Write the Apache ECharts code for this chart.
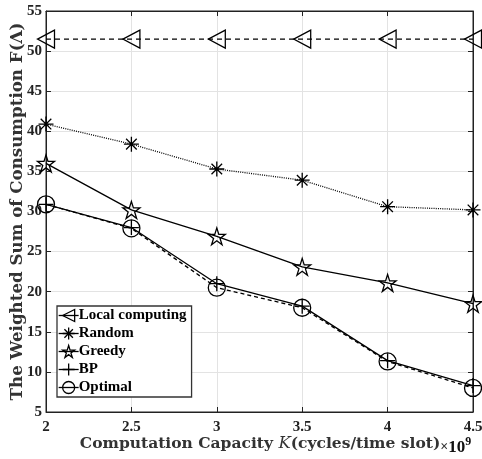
<!DOCTYPE html>
<html><head><meta charset="utf-8">
<script src="https://cdn.jsdelivr.net/npm/echarts@6/dist/echarts.min.js"></script>
<style>html,body{margin:0;padding:0;background:#fff}#c{width:482px;height:459px}</style>
</head><body><div id="c"></div>
<script>
const capacity = [2, 2.5, 3, 3.5, 4, 4.5];
const localComputing = [51.5, 51.5, 51.5, 51.5, 51.5, 51.5];
const randomVals = [40.9, 38.4, 35.3, 33.9, 30.6, 30.2];
const greedyVals = [36.0, 30.2, 26.9, 23.1, 21.1, 18.5];
const bpVals = [30.9, 28.0, 21.0, 18.2, 11.4, 8.3];
const optimalVals = [30.9, 27.9, 20.5, 18.0, 11.3, 8.0];
const xTicks = ['2', '2.5', '3', '3.5', '4', '4.5'];

const FONT = '"Liberation Serif", serif';
const WIDE = '"DejaVu Serif", serif';
const pairs = v => capacity.map((x, i) => [x, v[i]]);

const SYM = {
  tri: 'path://M-1,0 L0.9,-1 L0.9,1 Z',
  ast: 'path://M0,-1 L0,1 M-0.707,-0.707 L0.707,0.707 M-0.707,0.707 L0.707,-0.707 M-1,0 L1,0',
  star: 'path://M0,-1 L0.2245,-0.309 L0.951,-0.309 L0.363,0.118 L0.588,0.809 L0,0.382 L-0.588,0.809 L-0.363,0.118 L-0.951,-0.309 L-0.2245,-0.309 Z',
  plus: 'path://M0,-1 L0,1 M-1,0 L1,0'
};
const HOLLOW = { color: 'rgba(0,0,0,0)', borderColor: '#000', borderWidth: 1.3 };

function mk(name, data, symbol, size, lineType, z) {
  return {
    name, type: 'line', data: pairs(data), symbol, symbolSize: size,
    showAllSymbol: true, z: z || 2,
    lineStyle: { color: '#000', width: 1.3, type: lineType },
    itemStyle: HOLLOW,
    emphasis: { disabled: true }, animation: false
  };
}

const legendNames = ['Local computing', 'Random', 'Greedy', 'BP', 'Optimal'];
const chart = echarts.init(document.getElementById('c'));
chart.setOption({
  animation: false,
  grid: { left: 46, right: 9, top: 11, bottom: 47, outerBoundsMode: 'none', containLabel: false,
          show: true, borderColor: '#222', borderWidth: 1 },
  legend: {
    orient: 'vertical', left: 57, top: 306, itemGap: 3, itemWidth: 20, itemHeight: 15,
    padding: [2, 5, 2, 1],
    backgroundColor: '#fff', borderColor: '#333', borderWidth: 1.3,
    itemStyle: HOLLOW,
    lineStyle: { type: 'solid', width: 1.3, color: '#000' },
    textStyle: { fontFamily: FONT, fontWeight: 'bold', fontSize: 15, color: '#000', padding: [0, 0, 0, -5] },
    data: legendNames.map(n => ({ name: n, itemStyle: HOLLOW }))
  },
  xAxis: [{
    type: 'value', min: 2, max: 4.5, interval: 0.5,
    axisLine: { show: true, lineStyle: { color: '#222' } },
    axisTick: { inside: true, length: 5, lineStyle: { color: '#222' } },
    splitLine: { show: true, lineStyle: { color: '#e3e3e3' } },
    axisLabel: { fontFamily: FONT, fontWeight: 'bold', fontSize: 15, color: '#222', margin: 8,
      formatter: (v) => { const i = capacity.indexOf(v); return i >= 0 ? xTicks[i] : ''; } },
    name: 'Computation Capacity {i|K}(cycles/time slot){s|×}{t|10}{p|9}',
    nameLocation: 'middle', nameGap: 19, nameMoveOverlap: false,
    nameTextStyle: {
      fontFamily: WIDE, fontWeight: 'bold', fontSize: 15.5, color: '#333', padding: [0, 0, 0, 32],
      rich: {
        i: { fontFamily: WIDE, fontStyle: 'italic', fontWeight: 'normal', fontSize: 16.5, color: '#333' },
        s: { fontFamily: FONT, fontSize: 14, color: '#333', padding: [8, 0, 0, 0] },
        t: { fontFamily: FONT, fontWeight: 'bold', fontSize: 17, color: '#111', padding: [8, 0, 0, 0] },
        p: { fontFamily: FONT, fontWeight: 'bold', fontSize: 12, color: '#111', padding: [0, 0, 4, 0] }
      }
    }
  }, {
    type: 'value', position: 'top', min: 2, max: 4.5, interval: 0.5,
    axisLine: { show: true, lineStyle: { color: '#222' } },
    axisTick: { inside: true, length: 5, lineStyle: { color: '#222' } },
    axisLabel: { show: false }, splitLine: { show: false }
  }],
  yAxis: [{
    type: 'value', min: 5, max: 55, interval: 5,
    axisLine: { show: true, lineStyle: { color: '#222' } },
    axisTick: { show: true, inside: true, length: 5, lineStyle: { color: '#222' } },
    splitLine: { show: true, lineStyle: { color: '#e3e3e3' } },
    axisLabel: { fontFamily: FONT, fontWeight: 'bold', fontSize: 15, color: '#222', margin: 4 },
    name: 'The Weighted Sum of Consumption F(Λ)', nameLocation: 'middle', nameGap: 20, nameMoveOverlap: false,
    nameTextStyle: { fontFamily: WIDE, fontWeight: 'bold', fontSize: 16.7, color: '#333' }
  }, {
    type: 'value', position: 'right', min: 5, max: 55, interval: 5,
    axisLine: { show: true, lineStyle: { color: '#222' } },
    axisTick: { show: true, inside: true, length: 5, lineStyle: { color: '#222' } },
    axisLabel: { show: false }, splitLine: { show: false }
  }],
  series: [
    mk('Local computing', localComputing, SYM.tri, [17, 18], [5, 4], 3),
    mk('Random', randomVals, SYM.ast, 15, [1, 1.2], 3),
    mk('Greedy', greedyVals, SYM.star, 17, 'solid', 3),
    mk('BP', bpVals, SYM.plus, 15, 'solid', 4),
    mk('Optimal', optimalVals, 'circle', 17, [4, 3], 3)
  ]
});
</script></body></html>
